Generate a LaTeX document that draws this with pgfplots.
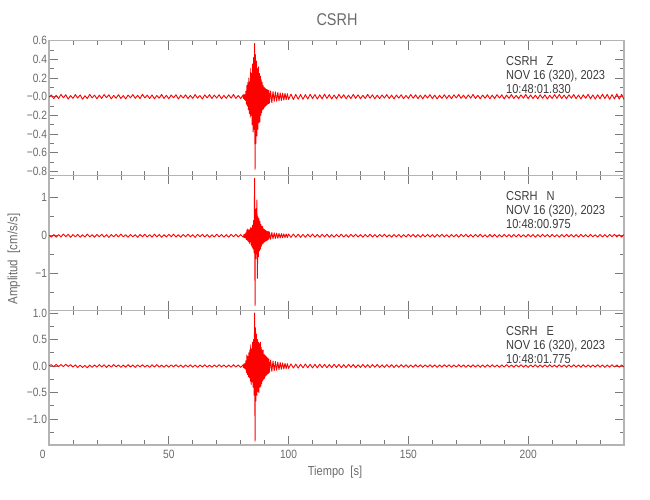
\documentclass[border=0pt]{standalone}
\usepackage{pgfplots}
\pgfplotsset{compat=1.18}
\usepackage{pgfplotstable}
\usepackage{fontspec}
\setmainfont{Liberation Sans}[FakeStretch=0.85]
\definecolor{framegray}{HTML}{B4B4B4}
\definecolor{tickgray}{HTML}{7A7A7A}
\definecolor{labgray}{HTML}{6A6A6A}
\definecolor{txtgray}{HTML}{3C3C3C}
\definecolor{trace}{HTML}{FF0000}

\pgfplotstableread{
x y
0 -0.005
1 0.018
2 -0.022
3 0.015
4 -0.02
5 0.024
6 -0.012
7 0.02
8 -0.026
9 0.012
10 -0.018
11 0.022
12 -0.015
13 0.019
14 -0.028
15 0.01
16 -0.02
17 0.025
18 -0.014
19 0.017
20 -0.022
21 0.016
22 -0.019
23 0.023
24 -0.011
25 0.02
26 -0.024
27 0.014
28 -0.017
29 0.021
30 -0.02
31 0.012
32 -0.025
33 0.018
34 -0.013
35 0.022
36 -0.018
37 0.015
38 -0.021
39 0.026
40 -0.014
41 0.017
42 -0.02
43 0.019
44 -0.023
45 0.013
46 -0.016
47 0.024
48 -0.019
49 0.015
50 -0.022
51 0.018
52 -0.012
53 0.021
54 -0.025
55 0.016
56 -0.015
57 0.02
58 -0.021
59 0.014
60 -0.018
61 0.023
62 -0.016
63 0.012
64 -0.024
65 0.019
66 -0.013
67 0.022
68 -0.02
69 0.017
70 -0.015
71 0.021
72 -0.023
73 0.014
74 -0.018
75 0.02
76 -0.016
77 0.024
78 -0.019
79 0.013
80 -0.021
81 0.018
81.2 -0.02
81.4 0.025
81.6 -0.03
81.8 0.02
82.0 -0.04
82.2 0.06
82.4 -0.08
82.6 0.12
82.8 -0.1
83.0 0.15
83.2 -0.14
83.4 0.2
83.6 -0.18
83.8 0.16
84.0 -0.22
84.2 0.3
84.4 -0.2
84.6 0.25
84.8 -0.3
85.0 0.35
85.2 -0.38
85.4 0.42
85.6 -0.35
85.8 0.57
86.0 -0.78
86.2 0.45
86.4 -0.5
86.6 0.38
86.8 -0.42
87.0 0.3
87.2 -0.35
87.4 0.32
87.6 -0.28
87.8 0.25
88.0 -0.27
88.2 0.22
88.4 -0.2
88.6 0.18
88.8 -0.17
89.0 0.15
89.2 -0.14
89.4 0.12
89.6 -0.13
89.8 0.1
90.0 -0.11
90.2 0.09
90.4 -0.1
90.6 0.08
90.8 -0.09
91.0 0.075
91.2 -0.08
91.4 0.07
91.6 -0.075
91.8 0.065
92.0 -0.07
92.5 0.06
93.0 -0.065
93.5 0.055
94.0 -0.05
94.5 0.052
95.0 -0.048
95.5 0.045
96.0 -0.044
96.5 0.04
97.0 -0.042
97.5 0.038
98.0 -0.036
98.5 0.035
99.0 -0.033
99.5 0.032
100 -0.03
101 0.028
102 -0.03
103 0.025
104 -0.027
105 0.024
106 -0.028
107 0.022
108 -0.025
109 0.026
110 -0.02
111 0.023
112 -0.026
113 0.02
114 -0.024
115 0.027
116 -0.019
117 0.022
118 -0.025
119 0.018
120 -0.022
121 0.024
122 -0.017
123 0.021
124 -0.023
125 0.016
126 -0.02
127 0.025
128 -0.018
129 0.02
130 -0.022
131 0.015
132 -0.019
133 0.024
134 -0.017
135 0.02
136 -0.023
137 0.016
138 -0.021
139 0.019
140 -0.015
141 0.022
142 -0.02
143 0.017
144 -0.024
145 0.018
146 -0.016
147 0.021
148 -0.022
149 0.014
150 -0.019
151 0.023
152 -0.017
153 0.02
154 -0.021
155 0.016
156 -0.023
157 0.019
158 -0.015
159 0.022
160 -0.02
161 0.017
162 -0.024
163 0.015
164 -0.018
165 0.021
166 -0.019
167 0.016
168 -0.022
169 0.02
170 -0.014
171 0.023
172 -0.018
173 0.017
174 -0.021
175 0.019
176 -0.016
177 0.024
178 -0.02
179 0.015
180 -0.022
181 0.018
182 -0.017
183 0.021
184 -0.023
185 0.016
186 -0.019
187 0.022
188 -0.015
189 0.02
190 -0.024
191 0.017
192 -0.018
193 0.023
194 -0.02
195 0.014
196 -0.021
197 0.019
198 -0.016
199 0.024
200 -0.022
201 0.018
202 -0.02
203 0.016
204 -0.023
205 0.021
206 -0.017
207 0.019
208 -0.025
209 0.015
210 -0.019
211 0.022
212 -0.018
213 0.024
214 -0.02
215 0.017
216 -0.022
217 0.02
218 -0.016
219 0.023
220 -0.021
221 0.018
222 -0.024
223 0.02
224 -0.017
225 0.025
226 -0.022
227 0.019
228 -0.026
229 0.021
230 -0.023
231 0.027
232 -0.02
233 0.024
234 -0.028
235 0.022
236 -0.025
237 0.03
238 -0.027
239 0.026
240 -0.03
}\dataZ

\pgfplotstableread{
x y
0 0.01
1 -0.035
2 0.03
3 -0.04
4 0.028
5 -0.032
6 0.045
7 -0.025
8 0.038
9 -0.042
10 0.03
11 -0.028
12 0.036
13 -0.04
14 0.025
15 -0.033
16 0.042
17 -0.03
18 0.027
19 -0.038
20 0.034
21 -0.026
22 0.04
23 -0.036
24 0.029
25 -0.044
26 0.032
27 -0.027
28 0.037
29 -0.031
30 0.043
31 -0.029
32 0.026
33 -0.039
34 0.035
35 -0.03
36 0.028
37 -0.041
38 0.033
39 -0.026
40 0.039
41 -0.034
42 0.027
43 -0.037
44 0.041
45 -0.028
46 0.031
47 -0.04
48 0.029
49 -0.033
50 0.036
51 -0.027
52 0.042
53 -0.035
54 0.026
55 -0.038
56 0.033
57 -0.029
58 0.04
59 -0.031
60 0.028
61 -0.043
62 0.035
63 -0.026
64 0.037
65 -0.032
66 0.03
67 -0.039
68 0.027
69 -0.034
70 0.041
71 -0.028
72 0.032
73 -0.036
74 0.029
75 -0.04
76 0.034
77 -0.027
78 0.038
79 -0.033
80 0.03
81 -0.036
81.2 -0.03
81.4 0.04
81.6 -0.05
81.8 0.04
82.0 -0.06
82.2 0.08
82.4 -0.1
82.6 0.15
82.8 -0.12
83.0 0.18
83.2 -0.15
83.4 0.14
83.6 -0.2
83.8 0.17
84.0 -0.16
84.2 0.22
84.4 -0.25
84.6 0.2
84.8 -0.3
85.0 0.28
85.2 -0.35
85.4 0.4
85.6 -0.45
85.8 1.51
86.0 -1.84
86.2 0.7
86.4 -0.6
86.6 0.55
86.8 0.94
87.0 -1.12
87.2 0.5
87.4 -0.55
87.6 0.45
87.8 -0.4
88.0 0.38
88.2 -0.35
88.4 0.3
88.6 -0.28
88.8 0.25
89.0 -0.22
89.2 0.24
89.4 -0.2
89.6 0.18
89.8 -0.17
90.0 0.16
90.2 -0.15
90.4 0.14
90.6 -0.13
90.8 0.12
91.0 -0.13
91.2 0.11
91.4 -0.1
91.6 0.11
91.8 -0.09
92.0 0.1
92.5 -0.09
93.0 0.085
93.5 -0.08
94.0 0.075
94.5 -0.07
95.0 0.068
95.5 -0.065
96.0 0.06
96.5 -0.058
97.0 0.055
97.5 -0.052
98.0 0.05
98.5 -0.048
99.0 0.046
99.5 -0.045
100 0.044
101 -0.042
102 0.045
103 -0.038
104 0.04
105 -0.043
106 0.036
107 -0.041
108 0.039
109 -0.034
110 0.042
111 -0.037
112 0.033
113 -0.04
114 0.038
115 -0.032
116 0.041
117 -0.036
118 0.03
119 -0.039
120 0.035
121 -0.031
122 0.04
123 -0.034
124 0.029
125 -0.038
126 0.036
127 -0.03
128 0.037
129 -0.033
130 0.028
131 -0.04
132 0.034
133 -0.029
134 0.038
135 -0.032
136 0.03
137 -0.037
138 0.033
139 -0.028
140 0.039
141 -0.034
142 0.027
143 -0.036
144 0.035
145 -0.03
146 0.032
147 -0.039
148 0.029
149 -0.033
150 0.037
151 -0.028
152 0.034
153 -0.035
154 0.03
155 -0.038
156 0.031
157 -0.027
158 0.036
159 -0.034
160 0.029
161 -0.037
162 0.033
163 -0.03
164 0.038
165 -0.032
166 0.028
167 -0.036
168 0.035
169 -0.029
170 0.031
171 -0.038
172 0.034
173 -0.027
174 0.037
175 -0.033
176 0.03
177 -0.035
178 0.032
179 -0.029
180 0.038
181 -0.031
182 0.027
183 -0.036
184 0.034
185 -0.03
186 0.033
187 -0.037
188 0.029
189 -0.032
190 0.036
191 -0.028
192 0.031
193 -0.035
194 0.033
195 -0.03
196 0.037
197 -0.032
198 0.028
199 -0.034
200 0.035
201 -0.029
202 0.032
203 -0.036
204 0.03
205 -0.033
206 0.038
207 -0.028
208 0.031
209 -0.035
210 0.034
211 -0.03
212 0.029
213 -0.037
214 0.033
215 -0.031
216 0.036
217 -0.027
218 0.032
219 -0.034
220 0.03
221 -0.036
222 0.035
223 -0.029
224 0.031
225 -0.033
226 0.037
227 -0.03
228 0.028
229 -0.035
230 0.034
231 -0.031
232 0.03
233 -0.036
234 0.033
235 -0.028
236 0.035
237 -0.032
238 0.029
239 -0.034
240 0.031
}\dataN

\pgfplotstableread{
x y
0 0.005
1 0.025
2 -0.015
3 0.03
4 -0.01
5 0.028
6 -0.012
7 0.032
8 -0.008
9 0.025
10 -0.02
11 0.022
12 -0.03
13 0.015
14 -0.028
15 0.012
16 -0.032
17 0.018
18 -0.025
19 0.02
20 -0.022
21 0.026
22 -0.018
23 0.024
24 -0.027
25 0.02
26 -0.021
27 0.027
28 -0.017
29 0.022
30 -0.025
31 0.018
32 -0.023
33 0.025
34 -0.02
35 0.019
36 -0.026
37 0.021
38 -0.018
39 0.024
40 -0.022
41 0.017
42 -0.025
43 0.023
44 -0.019
45 0.026
46 -0.021
47 0.018
48 -0.024
49 0.02
50 -0.023
51 0.022
52 -0.017
53 0.025
54 -0.02
55 0.019
56 -0.026
57 0.021
58 -0.018
59 0.023
60 -0.022
61 0.018
62 -0.025
63 0.02
64 -0.019
65 0.024
66 -0.021
67 0.017
68 -0.023
69 0.022
70 -0.02
71 0.026
72 -0.018
73 0.021
74 -0.024
75 0.019
76 -0.022
77 0.025
78 -0.019
79 0.02
80 -0.025
81 0.022
81.2 -0.03
81.4 0.035
81.6 -0.04
81.8 0.05
82.0 -0.06
82.2 0.1
82.4 -0.12
82.6 0.21
82.8 -0.16
83.0 0.18
83.2 -0.2
83.4 0.25
83.6 -0.22
83.8 0.3
84.0 -0.28
84.2 0.4
84.4 -0.35
84.6 0.32
84.8 -0.3
85.0 0.45
85.2 -0.4
85.4 0.5
85.6 -0.55
85.8 1.0
86.0 -1.42
86.2 0.72
86.4 -0.66
86.6 0.6
86.8 -0.55
87.0 0.5
87.2 -0.48
87.4 0.45
87.6 -0.5
87.8 0.42
88.0 -0.4
88.2 0.45
88.4 -0.38
88.6 0.35
88.8 -0.33
89.0 0.3
89.2 -0.28
89.4 0.3
89.6 -0.25
89.8 0.22
90.0 -0.23
90.2 0.2
90.4 -0.19
90.6 0.18
90.8 -0.17
91.0 0.16
91.2 -0.15
91.4 0.15
91.6 -0.14
91.8 0.13
92.0 -0.12
92.5 0.11
93.0 -0.1
93.5 0.095
94.0 -0.09
94.5 0.085
95.0 -0.08
95.5 0.075
96.0 -0.07
96.5 0.065
97.0 -0.06
97.5 0.058
98.0 -0.055
98.5 0.05
99.0 -0.048
99.5 0.045
100 -0.044
101 0.04
102 -0.038
103 0.036
104 -0.039
105 0.034
106 -0.035
107 0.037
108 -0.032
109 0.033
110 -0.036
111 0.031
112 -0.034
113 0.035
114 -0.029
115 0.032
116 -0.033
117 0.028
118 -0.031
119 0.034
120 -0.027
121 0.03
122 -0.032
123 0.026
124 -0.03
125 0.031
126 -0.025
127 0.029
128 -0.031
129 0.024
130 -0.028
131 0.03
132 -0.026
133 0.025
134 -0.029
135 0.027
136 -0.024
137 0.028
138 -0.026
139 0.022
140 -0.027
141 0.026
142 -0.023
143 0.025
144 -0.027
145 0.021
146 -0.025
147 0.026
148 -0.022
149 0.024
150 -0.026
151 0.02
152 -0.024
153 0.025
154 -0.021
155 0.023
156 -0.025
157 0.022
158 -0.02
159 0.024
160 -0.023
161 0.021
162 -0.025
163 0.02
164 -0.022
165 0.024
166 -0.019
167 0.023
168 -0.024
169 0.02
170 -0.021
171 0.025
172 -0.02
173 0.022
174 -0.024
175 0.019
176 -0.023
177 0.024
178 -0.02
179 0.021
180 -0.025
181 0.02
182 -0.022
183 0.023
184 -0.019
185 0.024
186 -0.021
187 0.02
188 -0.024
189 0.022
190 -0.02
191 0.025
192 -0.021
193 0.019
194 -0.023
195 0.022
196 -0.02
197 0.024
198 -0.022
199 0.02
200 -0.025
201 0.021
202 -0.019
203 0.023
204 -0.022
205 0.02
206 -0.024
207 0.022
208 -0.02
209 0.025
210 -0.021
211 0.019
212 -0.023
213 0.024
214 -0.02
215 0.022
216 -0.025
217 0.02
218 -0.021
219 0.023
220 -0.022
221 0.02
222 -0.024
223 0.025
224 -0.021
225 0.02
226 -0.023
227 0.022
228 -0.02
229 0.024
230 -0.022
231 0.021
232 -0.025
233 0.02
234 -0.022
235 0.024
236 -0.021
237 0.02
238 -0.023
239 0.022
240 -0.02
}\dataE

\pgfplotsset{
  panel/.style={
    scale only axis, width=575pt, height=134.8pt,
    anchor=north west,
    xmin=0, xmax=240,
    axis line style={framegray, line width=1.1pt},
    tick style={tickgray, line width=0.7pt},
    tick align=inside,
    xtick pos=both, ytick pos=both,
    ticklabel pos=left,
    major tick length=9pt, minor tick length=4.5pt,
    xtick={0,50,100,150,200},
    minor xtick={10,20,30,40,60,70,80,90,110,120,130,140,160,170,180,190,210,220,230},
    xticklabels={},
    tick label style={labgray, font=\fontsize{12}{13}\selectfont},
    yticklabel style={xshift=1.5pt},
    clip=true,
  },
  trc/.style={trace, line width=0.9pt, line join=round},
}

\begin{document}
\begin{tikzpicture}
\path[use as bounding box] (0pt,0pt) rectangle (650pt,500pt);

\begin{axis}[panel, at={(49pt,459.3pt)},
  ymin=-0.845, ymax=0.6,
  ytick={-0.8,-0.6,-0.4,-0.2,0,0.2,0.4,0.6},
  yticklabels={−0.8,−0.6,−0.4,−0.2,−0.0,0.2,0.4,0.6},
  minor ytick={-0.7,-0.5,-0.3,-0.1,0.1,0.3,0.5},
]
\addplot[trc] table[x=x,y=y] {\dataZ};
\end{axis}

\begin{axis}[panel, at={(49pt,324.5pt)},
  ymin=-1.96, ymax=1.584,
  ytick={-1,0,1},
  yticklabels={−1,0,1},
  minor ytick={-1.5,-0.5,0.5,1.5},
]
\addplot[trc] table[x=x,y=y] {\dataN};
\end{axis}

\begin{axis}[panel, at={(49pt,189.8pt)},
  ymin=-1.49, ymax=1.053,
  ytick={-1,-0.5,0,0.5,1},
  yticklabels={−1.0,−0.5,0.0,0.5,1.0},
  minor ytick={-1.25,-0.75,-0.25,0.25,0.75},
  xticklabels={\makebox[0pt][r]{0\hspace{3.5pt}},50,100,150,200},
  xticklabel style={yshift=-2pt},
]
\addplot[trc] table[x=x,y=y] {\dataE};
\end{axis}

% annotations
\begin{scope}[every node/.style={anchor=base west, inner sep=0pt, text=txtgray, font=\fontsize{13}{15}\selectfont}]
\node at (506pt,434.3pt) {CSRH\ \ \ Z};
\node at (506pt,420.3pt) {NOV 16 (320), 2023};
\node at (506pt,406.3pt) {10:48:01.830};
\node at (506pt,299.5pt) {CSRH\ \ \ N};
\node at (506pt,285.5pt) {NOV 16 (320), 2023};
\node at (506pt,271.5pt) {10:48:00.975};
\node at (506pt,164.8pt) {CSRH\ \ \ E};
\node at (506pt,150.8pt) {NOV 16 (320), 2023};
\node at (506pt,136.8pt) {10:48:01.775};
\end{scope}

\node[text=labgray, font=\fontsize{17}{19}\selectfont] at (337pt,480pt) {CSRH};
\node[text=labgray, font=\fontsize{13}{15}\selectfont] at (335pt,28pt) {Tiempo\ \ [s]};
\node[text=labgray, font=\fontsize{13.5}{15}\selectfont, rotate=90] at (14pt,241pt) {Amplitud\ \ [cm/s/s]};
\end{tikzpicture}
\end{document}
